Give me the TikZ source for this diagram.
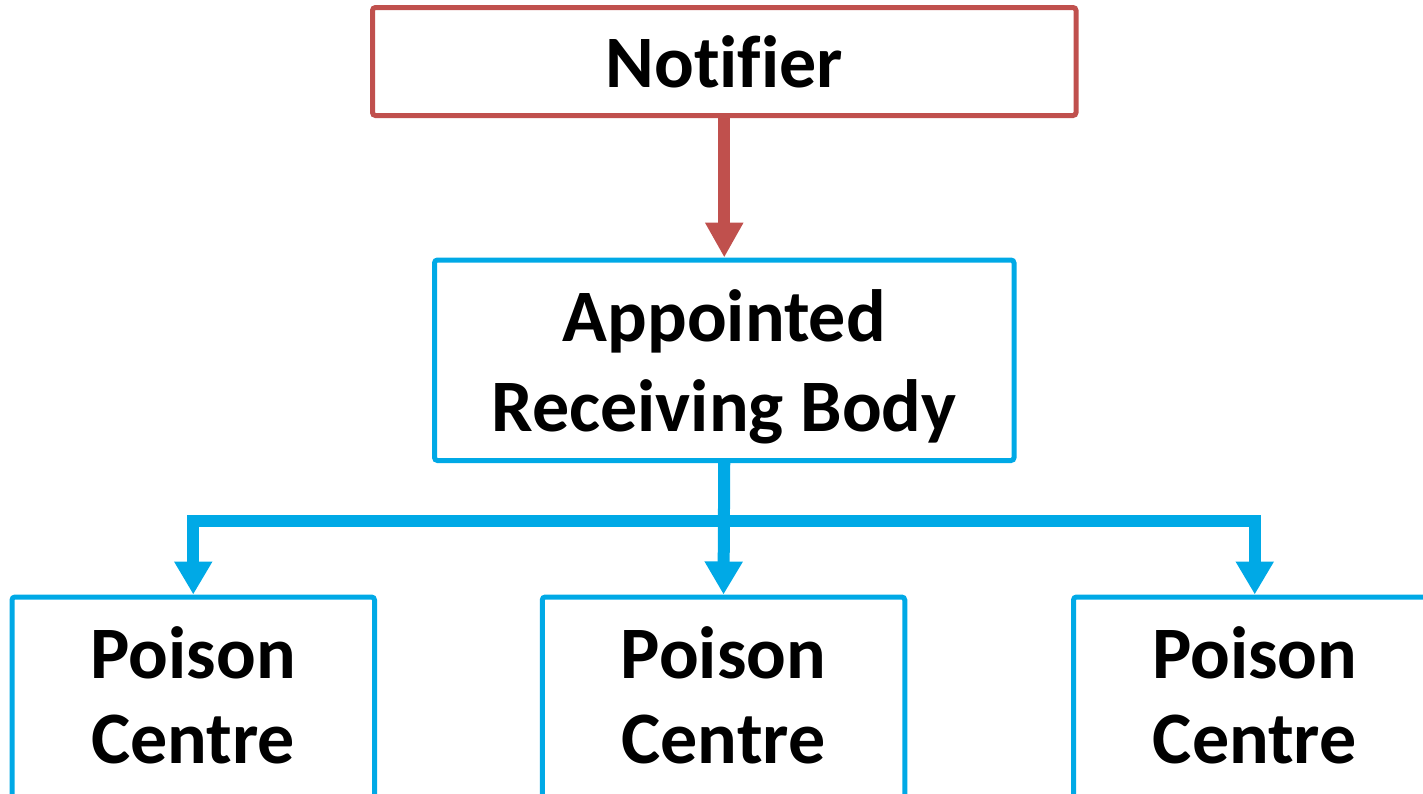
\documentclass[tikz,border=0pt]{standalone}
\usepackage{fontspec}
\setmainfont{Carlito}[Ligatures=CommonOff]
\usetikzlibrary{arrows.meta}
\definecolor{nred}{HTML}{C0504D}
\definecolor{nblue}{HTML}{00A9E6}
\begin{document}
\begin{tikzpicture}[x=1pt,y=-1pt,
  box/.style={draw, line width=5pt, rounded corners=3pt, inner sep=0pt},
  lbl/.style={font=\fontsize{74}{90}\selectfont\bfseries, align=center, inner sep=0pt},
  pclbl/.style={font=\fontsize{74}{85}\selectfont\bfseries, align=center, inner sep=0pt},
  redarrow/.style={draw=nred, line width=12pt, -{Triangle[width=36pt,length=35pt]}},
  bluearrow/.style={draw=nblue, line width=12pt, -{Triangle[width=36pt,length=33pt]}}]
\clip (0,0) rectangle (1423,793);
\node[box, lbl, draw=nred, minimum width=703.5pt, minimum height=108pt] (notifier) at (724.25,61.5) {Notifier};
\node[box, draw=nblue, minimum width=579.5pt, minimum height=200.5pt] (app) at (724.25,360.25) {};
\node[lbl] (apptext) at (724.25,367) {Appointed\\Receiving Body};
\node[box, draw=nblue, minimum width=362.5pt, minimum height=300pt, anchor=north] (pc1) at (193.25,594.5) {};
\node[box, draw=nblue, minimum width=362.5pt, minimum height=300pt, anchor=north] (pc2) at (723.5,594.5) {};
\node[box, draw=nblue, minimum width=362.5pt, minimum height=300pt, anchor=north] (pc3) at (1254.75,594.5) {};
\node[pclbl] (pc1text) at (193.25,695) {Poison\\Centre};
\node[pclbl] (pc2text) at (723.5,695) {Poison\\Centre};
\node[pclbl] (pc3text) at (1254.75,695) {Poison\\Centre};
\coordinate (bar) at (724.25,521);
\draw[redarrow] (notifier.south) -- (app.north);
\draw[bluearrow] (app.south) -- (app.south |- bar) -| (pc1.north);
\draw[bluearrow] (app.south) -- (pc2.north);
\draw[bluearrow] (app.south) -- (app.south |- bar) -| (pc3.north);
\end{tikzpicture}
\end{document}
